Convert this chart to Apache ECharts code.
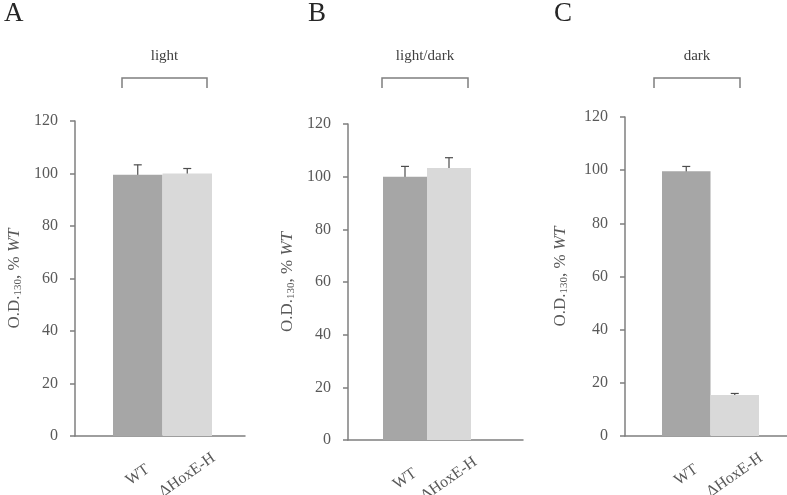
<!DOCTYPE html>
<html>
<head>
<meta charset="utf-8">
<script src="https://cdn.jsdelivr.net/npm/echarts@6/dist/echarts.min.js"></script>
<style>html,body{margin:0;padding:0;background:#fff}#c{width:787px;height:495px}</style>
</head>
<body>
<div id="c"></div>
<script>
const categories = ['WT', '\u0394HoxE-H'];
const panelLetters = ['A', 'B', 'C'];
const conditions = ['light', 'light/dark', 'dark'];
const lightValues = [99.5, 100.0];
const lightErrors = [3.8, 1.9];
const lightDarkValues = [100.0, 103.3];
const lightDarkErrors = [3.9, 3.9];
const darkValues = [99.6, 15.4];
const darkErrors = [1.8, 0.6];
const yMin = 0, yMax = 120, yInterval = 20;

const FONT = '"Liberation Serif", "Times New Roman", serif';
const barColors = ['#a6a6a6', '#d9d9d9'];
const axisColor = '#7f7f7f';
const textColor = '#595959';

const panelValues = [lightValues, lightDarkValues, darkValues];
const panelErrors = [lightErrors, lightDarkErrors, darkErrors];

// layout (pixels) per panel
const layout = [
  {axisLeft: 75, axisRight: 245, top: 121, bottom: 436, barL: 113, barR: 212, letterX: 4, bracket: [122, 207], nameGap: 51},
  {axisLeft: 348, axisRight: 523, top: 124, bottom: 440, barL: 383, barR: 471, letterX: 308, bracket: [382, 468], nameGap: 51},
  {axisLeft: 625, axisRight: 787, top: 117, bottom: 436, barL: 662, barR: 759, letterX: 554, bracket: [654, 740], nameGap: 55}
];

const grid = [], xAxis = [], yAxis = [], series = [], graphic = [], title = [];

layout.forEach((L, p) => {
  const g0 = grid.length;
  grid.push({left: L.axisLeft, top: L.top, width: L.axisRight - L.axisLeft, height: L.bottom - L.top, containLabel: false, outerBoundsMode: 'none'});
  grid.push({left: L.barL, top: L.top, width: L.barR - L.barL, height: L.bottom - L.top, containLabel: false, outerBoundsMode: 'none'});

  // frame axes
  xAxis.push({
    gridIndex: g0, type: 'category', data: [''],
    axisLine: {lineStyle: {color: axisColor, width: 1.5}},
    axisTick: {show: false}, axisLabel: {show: false}, splitLine: {show: false}
  });
  yAxis.push({
    gridIndex: g0, type: 'value', min: yMin, max: yMax, interval: yInterval,
    name: '{n|O.D.}{s|130}{n|, % }{i|WT}',
    nameLocation: 'middle', nameRotate: 90, nameGap: L.nameGap,
    nameTextStyle: {
      rich: {
        n: {fontFamily: FONT, fontSize: 17, color: textColor},
        s: {fontFamily: FONT, fontSize: 11, color: textColor, verticalAlign: 'bottom', padding: [7, 0, 0, 0]},
        i: {fontFamily: FONT, fontSize: 17, color: textColor, fontStyle: 'italic'}
      }
    },
    axisLine: {show: true, lineStyle: {color: axisColor, width: 1.5}},
    axisTick: {show: true, inside: false, length: 5, lineStyle: {color: axisColor, width: 1.5}},
    axisLabel: {fontFamily: FONT, fontSize: 16, color: textColor, margin: 17},
    splitLine: {show: false}
  });

  // bar axes
  const xi = xAxis.length;
  xAxis.push({
    gridIndex: g0 + 1, type: 'category', data: categories,
    axisLine: {show: false}, axisTick: {show: false}, splitLine: {show: false},
    axisLabel: {
      fontFamily: FONT, fontSize: 16, color: textColor, rotate: 35,
      align: 'center', verticalAlign: 'middle', margin: 39, interval: 0
    }
  });
  yAxis.push({
    gridIndex: g0 + 1, type: 'value', min: yMin, max: yMax, interval: yInterval, show: false
  });

  const vals = panelValues[p], errs = panelErrors[p];
  series.push({
    type: 'bar', xAxisIndex: xi, yAxisIndex: xi,
    barCategoryGap: '0%', silent: true, animation: false,
    data: vals.map((v, i) => ({value: v, itemStyle: {color: barColors[i]}}))
  });
  series.push({
    type: 'custom', xAxisIndex: xi, yAxisIndex: xi, animation: false, silent: true,
    encode: {x: 0, y: 1},
    data: vals.map((v, i) => [i, v, errs[i]]),
    renderItem: function (params, api) {
      const x = api.value(0), v = api.value(1), e = api.value(2);
      const t = api.coord([x, v + e]), b = api.coord([x, v - e]);
      const hw = 4;
      const st = {stroke: '#4d4d4d', lineWidth: 1.2};
      return {
        type: 'group', children: [
          {type: 'line', shape: {x1: t[0], y1: t[1], x2: b[0], y2: b[1]}, style: st},
          {type: 'line', shape: {x1: t[0] - hw, y1: t[1], x2: t[0] + hw, y2: t[1]}, style: st},
          {type: 'line', shape: {x1: b[0] - hw, y1: b[1], x2: b[0] + hw, y2: b[1]}, style: st}
        ]
      };
    }
  });

  // panel letter and condition label
  title.push({text: panelLetters[p], left: L.letterX, top: 0, padding: 0,
    textStyle: {fontFamily: FONT, fontSize: 27, fontWeight: 'normal', color: '#262626'}});
  graphic.push({
    type: 'text', x: (L.bracket[0] + L.bracket[1]) / 2, y: 56,
    style: {text: conditions[p], font: '15px ' + FONT, fill: '#404040', align: 'center', verticalAlign: 'middle'}
  });
  graphic.push({
    type: 'polyline',
    shape: {points: [[L.bracket[0], 88], [L.bracket[0], 78], [L.bracket[1], 78], [L.bracket[1], 88]]},
    style: {stroke: axisColor, lineWidth: 1.5, fill: null}
  });
});

const chart = echarts.init(document.getElementById('c'), null, {renderer: 'canvas'});
chart.setOption({
  backgroundColor: '#ffffff',
  animation: false,
  title: title,
  grid: grid,
  xAxis: xAxis,
  yAxis: yAxis,
  series: series,
  graphic: graphic
});
</script>
</body>
</html>
